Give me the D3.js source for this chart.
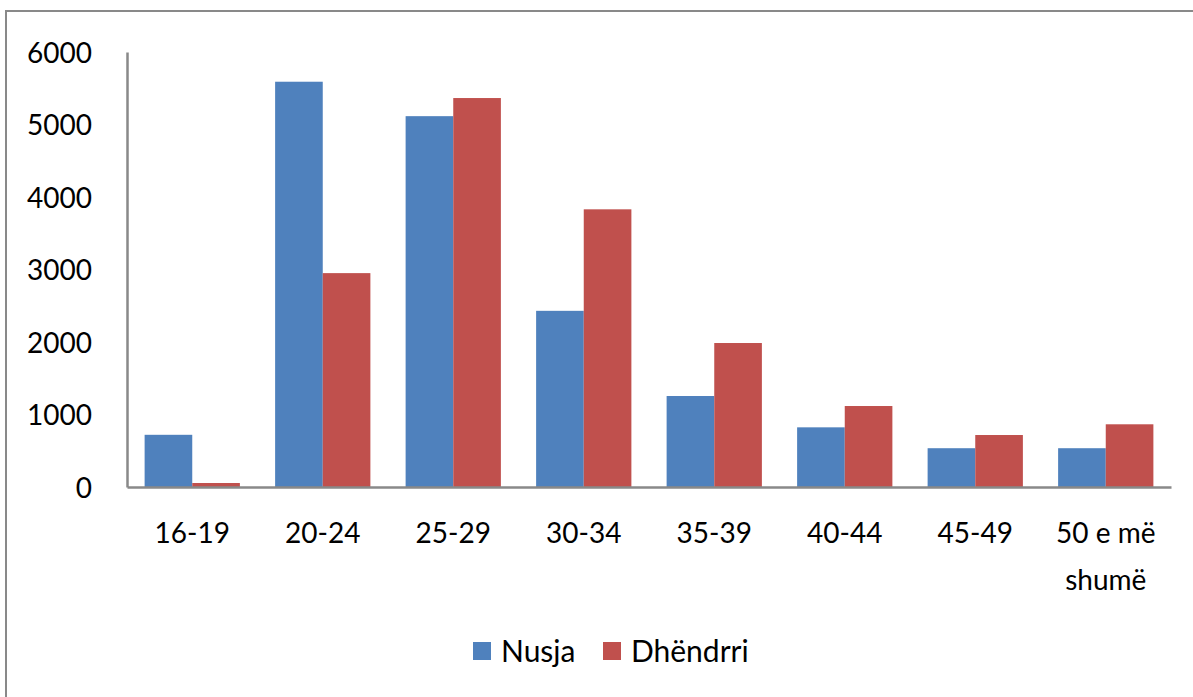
<!DOCTYPE html>
<html>
<head>
<meta charset="utf-8">
<script src="https://cdn.jsdelivr.net/npm/d3@7"></script>
<style>
  body { margin: 0; background: #fff; }
  text { font-family: Lato, "Open Sans", sans-serif; fill: #000; }
</style>
</head>
<body>
<script>
// chart data
var categories = ["16-19", "20-24", "25-29", "30-34", "35-39", "40-44", "45-49", "50 e më shumë"];
var nusja = [720, 5590, 5115, 2430, 1255, 823, 535, 535];
var dhendrri = [55, 2950, 5365, 3830, 1986, 1117, 717, 865];
var seriesNames = ["Nusja", "Dhëndrri"];
var colors = ["#4F81BD", "#C0504D"];
var yTicks = [0, 1000, 2000, 3000, 4000, 5000, 6000];
var catLines = {"50 e më shumë": ["50 e më", "shumë"]};

var W = 1193, H = 697;
var plotLeft = 127, plotRight = 1171, plotTop = 52, plotBottom = 487;

var svg = d3.select("body").append("svg").attr("width", W).attr("height", H);

// outer frame (runs off the right and bottom)
svg.append("rect")
  .attr("x", 6).attr("y", 11).attr("width", 1220).attr("height", 720)
  .attr("fill", "none").attr("stroke", "#898989").attr("stroke-width", 2);

var x = d3.scaleBand().domain(categories).range([plotLeft, plotRight])
  .paddingInner(0.27).paddingOuter(0.135);
var x1 = d3.scaleBand().domain([0, 1]).range([0, x.bandwidth()]);
var y = d3.scaleLinear().domain([0, 6000]).range([plotBottom, plotTop]);

var rows = categories.map(function(c, i) { return {cat: c, vals: [nusja[i], dhendrri[i]]}; });

var groups = svg.append("g").selectAll("g")
  .data(rows).enter().append("g")
  .attr("transform", function(d) { return "translate(" + x(d.cat) + ",0)"; });

groups.selectAll("rect")
  .data(function(d) { return d.vals; })
  .enter().append("rect")
  .attr("x", function(d, i) { return x1(i); })
  .attr("width", x1.bandwidth())
  .attr("y", function(d) { return y(d); })
  .attr("height", function(d) { return plotBottom - y(d); })
  .attr("fill", function(d, i) { return colors[i]; });

// y axis
var yAxis = svg.append("g").attr("transform", "translate(" + plotLeft + ",0)")
  .call(d3.axisLeft(y).tickValues(yTicks).tickSize(0).tickPadding(35).tickFormat(d3.format("d")));
yAxis.select(".domain").attr("stroke", "#898989").attr("stroke-width", 2.5);
yAxis.selectAll("text").style("font-size", "28px").attr("dy", "0.36em");

// x axis
var xAxis = svg.append("g").attr("transform", "translate(0," + plotBottom + ")")
  .call(d3.axisBottom(x).tickSize(0).tickFormat(""));
xAxis.select(".domain").attr("stroke", "#898989").attr("stroke-width", 2.5);

xAxis.selectAll(".tick").each(function(d) {
  var lines = catLines[d] || [d];
  var t = d3.select(this).append("text")
    .attr("text-anchor", "middle").style("font-size", "28px");
  lines.forEach(function(l, i) {
    t.append("tspan").attr("x", 0).attr("y", 56 + i * 47).text(l);
  });
});

// legend
var legendX = [473, 603];
var legend = svg.append("g").selectAll("g")
  .data(seriesNames).enter().append("g")
  .attr("transform", function(d, i) { return "translate(" + legendX[i] + ",642)"; });
legend.append("rect").attr("width", 18).attr("height", 18)
  .attr("fill", function(d, i) { return colors[i]; });
legend.append("text").attr("x", 28).attr("y", 20)
  .style("font-size", "30px").text(function(d) { return d; });
</script>
</body>
</html>
